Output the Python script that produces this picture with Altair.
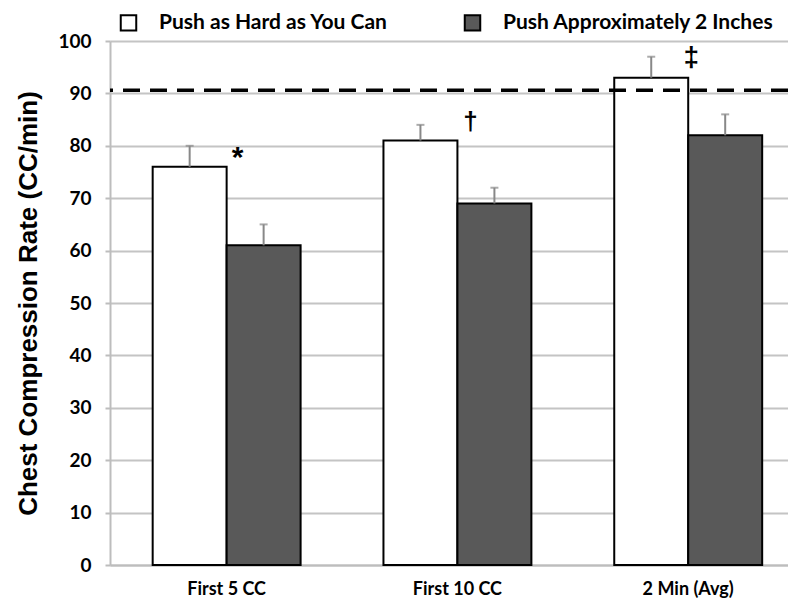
import altair as alt
import pandas as pd

categories = ["First 5 CC", "First 10 CC", "2 Min (Avg)"]
series = ["Push as Hard as You Can", "Push Approximately 2 Inches"]
hard_mean = [76, 81, 93]
hard_upper = [80, 84, 97]
approx_mean = [61, 69, 82]
approx_upper = [65, 72, 86]
target_rate = 90.6
marker_symbols = ["*", "\u2020", "\u2021"]
marker_y = [79, 84.5, 96.8]
y_ticks = [0, 10, 20, 30, 40, 50, 60, 70, 80, 90, 100]

rows = []
for i, c in enumerate(categories):
    rows.append({"cat": c, "series": series[0], "mean": hard_mean[i], "upper": hard_upper[i]})
    rows.append({"cat": c, "series": series[1], "mean": approx_mean[i], "upper": approx_upper[i]})
df = pd.DataFrame(rows)

LABEL_FONT = "Lato"
TITLE_FONT = "Liberation Sans"

x_enc = alt.X("cat:N", sort=categories,
              scale=alt.Scale(paddingInner=0.359, paddingOuter=0.1484, align=0.623),
              axis=alt.Axis(title=None, labelAngle=0, labelFont=LABEL_FONT, labelFontSize=18,
                            labelFontWeight="bold", labelColor="black", ticks=False,
                            domainColor="#bdbdbd", domainWidth=2, labelPadding=15))
xoff = alt.XOffset("series:N", sort=series, scale=alt.Scale(paddingInner=0, paddingOuter=0))
y_scale = alt.Scale(domain=[0, 100], nice=False)

bars = alt.Chart(df).mark_bar(stroke="black", strokeWidth=2).encode(
    x=x_enc,
    xOffset=xoff,
    y=alt.Y("mean:Q", scale=y_scale,
            axis=alt.Axis(title="Chest Compression Rate (CC/min)", values=y_ticks,
                          titleFont=TITLE_FONT, titleFontSize=26, titleFontWeight="bold",
                          titleColor="black", titlePadding=16,
                          labelFont=LABEL_FONT, labelFontSize=19, labelFontWeight="bold",
                          labelColor="black", labelPadding=14,
                          grid=True, gridColor="#c4c4c4", gridWidth=2,
                          tickColor="#bdbdbd", tickSize=5, tickWidth=2,
                          domainColor="#bdbdbd", domainWidth=2)),
    color=alt.Color("series:N", sort=series,
                    scale=alt.Scale(domain=series, range=["#ffffff", "#595959"]),
                    legend=alt.Legend(title=None, orient="none", legendX=8, legendY=-29,
                                      direction="horizontal", columns=2, columnPadding=72,
                                      symbolType="square", symbolSize=240,
                                      symbolStrokeColor="black", symbolStrokeWidth=2,
                                      labelFont=LABEL_FONT, labelFontSize=21,
                                      labelFontWeight="bold", labelColor="black",
                                      labelOffset=20, labelLimit=400)),
)

err = alt.Chart(df).mark_rule(color="#888888", strokeWidth=2).encode(
    x=alt.X("cat:N", sort=categories), xOffset=xoff,
    y=alt.Y("mean:Q"), y2="upper:Q")

caps = alt.Chart(df).mark_tick(color="#888888", thickness=2, size=8).encode(
    x=alt.X("cat:N", sort=categories), xOffset=xoff,
    y=alt.Y("upper:Q"))

target = alt.Chart(pd.DataFrame({"t": [target_rate]})).mark_rule(
    color="black", strokeWidth=3.5, strokeDash=[17, 10]).encode(y="t:Q")

marker_dx = [11, 13, 3]
marker_size = [30, 26, 28]
marker_dy = [7, 0, 0]
mark_layers = []
for i in range(3):
    mdf = pd.DataFrame({"cat": [categories[i]], "sym": [marker_symbols[i]], "yv": [marker_y[i]]})
    mark_layers.append(
        alt.Chart(mdf).mark_text(font=TITLE_FONT, fontWeight="bold", fontSize=marker_size[i],
                                 color="black", dx=marker_dx[i], baseline="middle",
                                 dy=marker_dy[i]).encode(
            x=alt.X("cat:N", sort=categories), y=alt.Y("yv:Q"), text="sym:N"))

chart = alt.layer(bars, err, caps, target, *mark_layers).properties(
    width=678, height=524,
    autosize=alt.AutoSizeParams(type="none"),
    padding={"left": 102, "top": 33, "right": 0, "bottom": 35},
    background="white",
).configure_view(stroke=None)

chart.save("out.html", embed_options={"renderer": "svg", "actions": False})
